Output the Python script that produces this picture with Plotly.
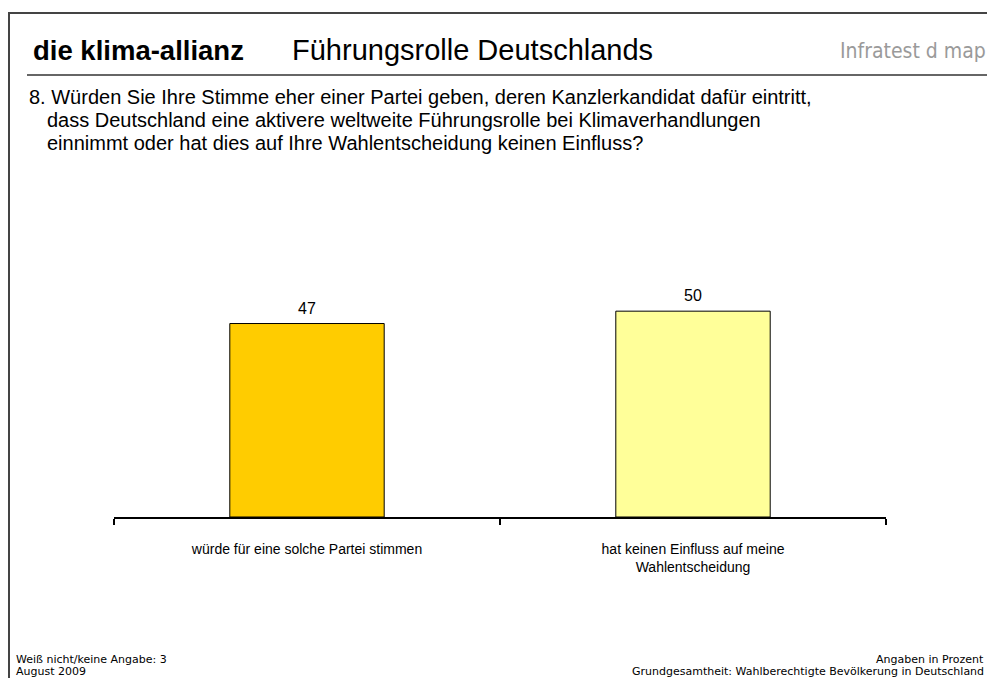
import plotly.graph_objects as go

categories = ["würde für eine solche Partei stimmen",
              "hat keinen Einfluss auf meine<br>Wahlentscheidung"]
values = [47, 50]
bar_colors = ["#FFCC00", "#FFFF99"]

title_bold = "die klima-allianz"
title_main = "Führungsrolle Deutschlands"
brand = "Infratest d map"
question = ["8. Würden Sie Ihre Stimme eher einer Partei geben, deren Kanzlerkandidat dafür eintritt,",
            "dass Deutschland eine aktivere weltweite Führungsrolle bei Klimaverhandlungen",
            "einnimmt oder hat dies auf Ihre Wahlentscheidung keinen Einfluss?"]
foot_left = ["Weiß nicht/keine Angabe: 3", "August 2009"]
foot_right = ["Angaben in Prozent", "Grundgesamtheit: Wahlberechtigte Bevölkerung in Deutschland"]

# page has an 8px body margin, so the figure is a bit smaller than the window
W, H = 979, 670
L, R, T, B = 106, 101, 262, 161


def px(x):
    # x in window pixels -> paper
    return (x - 8 - L) / (W - L - R)


def py(y):
    return (H - B - (y - 8)) / (H - B - T)


fig = go.Figure()
fig.add_bar(x=categories, y=values, marker=dict(color=bar_colors, line=dict(color="black", width=1)),
            width=0.4, hoverinfo="skip")

ann = []
for c, v in zip(categories, values):
    ann.append(dict(x=c, y=v, xref="x", yref="y", text=str(v), yanchor="bottom", yshift=5,
                    showarrow=False, font=dict(size=16, family="Liberation Sans", color="black")))

hdr = []
hdr.append(dict(x=px(31), y=py(50), text="<b>" + title_bold + "</b>", xanchor="left", yanchor="middle",
                font=dict(size=27.5, family="Liberation Sans", color="black")))
hdr.append(dict(x=px(290), y=py(50), text=title_main, xanchor="left", yanchor="middle",
                font=dict(size=29, family="Liberation Sans", color="black")))
hdr.append(dict(x=px(988), y=py(51), text=brand, xanchor="right", yanchor="middle",
                font=dict(size=21, family="DejaVu Sans Condensed", color="#9a9a9a")))
q_x = [27, 45, 45]
q_y = [97, 120, 143]
for t, xx, yy in zip(question, q_x, q_y):
    hdr.append(dict(x=px(xx), y=py(yy), text=t, xanchor="left", yanchor="middle",
                    font=dict(size=20, family="Liberation Sans", color="black")))
for t, yy in zip(foot_left, [659, 671]):
    hdr.append(dict(x=px(14), y=py(yy), text=t, xanchor="left", yanchor="middle",
                    font=dict(size=11, family="DejaVu Sans", color="black")))
for t, yy in zip(foot_right, [659, 671]):
    hdr.append(dict(x=px(986), y=py(yy), text=t, xanchor="right", yanchor="middle",
                    font=dict(size=11, family="DejaVu Sans", color="black")))
for a in hdr:
    a.update(xref="paper", yref="paper", showarrow=False)
ann += hdr

shapes = [
    dict(type="rect", xref="paper", yref="paper", x0=px(9), x1=px(1010), y0=py(13), y1=py(700),
         line=dict(color="#444444", width=2)),
    dict(type="line", xref="paper", yref="paper", x0=px(27), x1=px(990), y0=py(75), y1=py(75),
         line=dict(color="#333333", width=1.5)),
]

fig.update_layout(
    width=W, height=H, margin=dict(l=L, r=R, t=T, b=B),
    paper_bgcolor="white", plot_bgcolor="white",
    showlegend=False, annotations=ann, shapes=shapes,
    xaxis=dict(showline=True, linecolor="black", linewidth=1.5, ticks="outside", tickson="boundaries",
               ticklen=6, tickcolor="black", tickwidth=1.5, showgrid=False, ticklabelstandoff=18,
               tickfont=dict(size=14, family="Liberation Sans", color="black")),
    yaxis=dict(range=[0, 60], visible=False, showgrid=False),
)

fig.write_html("out.html")
